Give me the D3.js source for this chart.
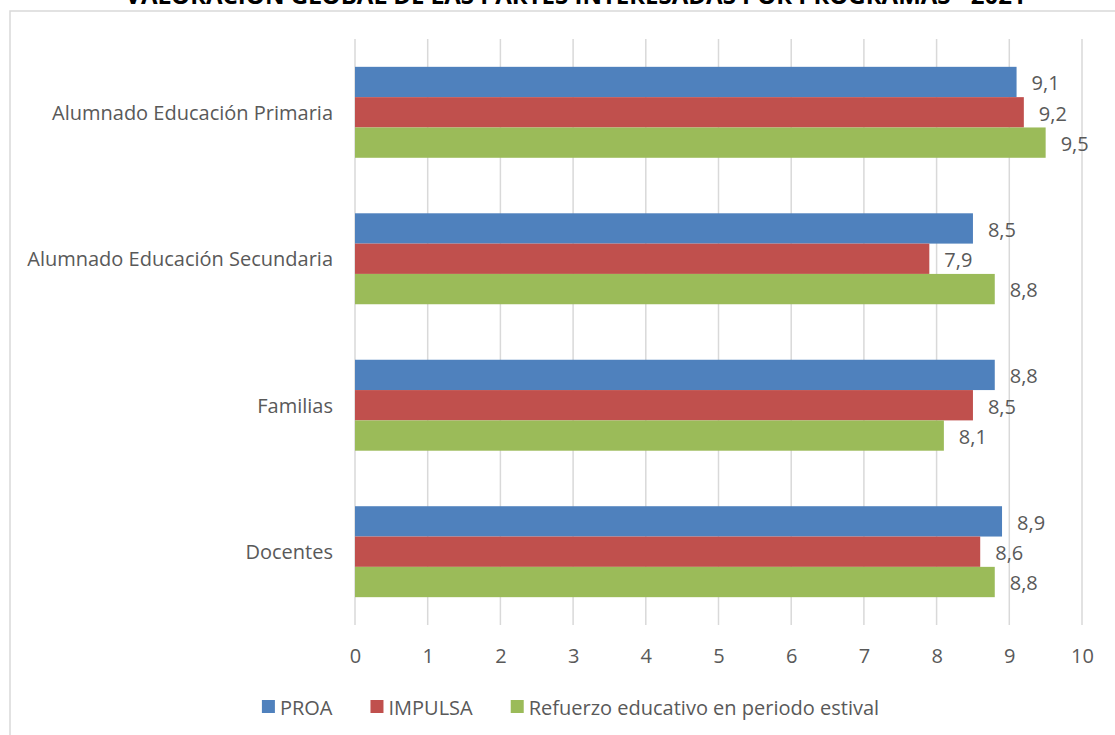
<!DOCTYPE html>
<html><head><meta charset="utf-8">
<script src="https://cdn.jsdelivr.net/npm/d3@7"></script>
<style>body{margin:0;background:#fff;} svg{display:block;font-family:'Open Sans',sans-serif;}</style>
</head><body><svg id="c" width="1115" height="735"></svg>
<script>
const title = "VALORACIÓN GLOBAL DE LAS PARTES INTERESADAS POR PROGRAMAS - 2021";
const categories = ["Alumnado Educación Primaria", "Alumnado Educación Secundaria", "Familias", "Docentes"];
const seriesNames = ["PROA", "IMPULSA", "Refuerzo educativo en periodo estival"];
const proa = [9.1, 8.5, 8.8, 8.9];
const impulsa = [9.2, 7.9, 8.5, 8.6];
const refuerzo = [9.5, 8.8, 8.1, 8.8];
const xTicks = [0, 1, 2, 3, 4, 5, 6, 7, 8, 9, 10];
const colors = ["#4F81BD", "#C0504D", "#9BBB59"];

const seriesValues = [proa, impulsa, refuerzo];
const svg = d3.select("#c");
const textColor = "#595959";
const gridColor = "#D9D9D9";

// chart border
svg.append("rect").attr("x", 10).attr("y", 11).attr("width", 1200).attr("height", 800)
  .attr("fill", "none").attr("stroke", gridColor).attr("stroke-width", 1.5);

// title (fit to width)
const t = svg.append("text").text(title).attr("font-weight", "bold").attr("fill", "#000")
  .attr("text-anchor", "middle").attr("x", 575.5).attr("y", 4).attr("font-size", 100);
const tw = t.node().getComputedTextLength();
t.attr("font-size", 100 * 901 / tw);

const x = d3.scaleLinear().domain([0, 10]).range([355, 1082]);
const y = d3.scaleBand().domain(categories).range([39, 625]).paddingInner(0.379).paddingOuter(0.19);
const ys = d3.scaleBand().domain(seriesNames).range([0, y.bandwidth()]);

// gridlines
svg.append("g").selectAll("line").data(xTicks).join("line")
  .attr("x1", d => x(d)).attr("x2", d => x(d)).attr("y1", 39).attr("y2", 625)
  .attr("stroke", gridColor).attr("stroke-width", 1.5);

// x tick labels
const xAxis = svg.append("g").attr("transform", "translate(0,625)")
  .call(d3.axisBottom(x).tickValues(xTicks).tickSize(0).tickPadding(0).tickFormat(d3.format("d")));
xAxis.select(".domain").remove();
xAxis.selectAll("text").attr("dy", null).attr("y", 38).attr("fill", textColor)
  .attr("font-size", 20).attr("font-family", "'Open Sans',sans-serif");

// category labels
const yAxis = svg.append("g").attr("transform", "translate(355,0)")
  .call(d3.axisLeft(y).tickSize(0).tickPadding(22));
yAxis.select(".domain").remove();
yAxis.selectAll("text").attr("dy", "0.37em").attr("fill", textColor)
  .attr("font-size", 20).attr("font-family", "'Open Sans',sans-serif");

// bars
const fmt = v => d3.format(".1f")(v).replace(".", ",");
const groups = svg.append("g").selectAll("g").data(categories).join("g")
  .attr("transform", d => `translate(0,${y(d)})`);
groups.each(function (cat, ci) {
  const g = d3.select(this);
  seriesNames.forEach((s, si) => {
    const v = seriesValues[si][ci];
    g.append("rect").attr("x", x(0)).attr("y", ys(s)).attr("width", x(v) - x(0))
      .attr("height", ys.bandwidth()).attr("fill", colors[si]);
    g.append("text").attr("x", x(v) + 15).attr("y", ys(s) + ys.bandwidth() / 2)
      .attr("dy", "0.42em").attr("fill", textColor).attr("font-size", 20).text(fmt(v));
  });
});

// legend
const lg = svg.append("g");
let cx = 0;
const items = [];
seriesNames.forEach((s, i) => {
  const it = lg.append("g").attr("transform", `translate(${cx},0)`);
  it.append("rect").attr("x", 0).attr("y", -7).attr("width", 13).attr("height", 13).attr("fill", colors[i]);
  const tx = it.append("text").attr("x", 18).attr("y", 8).attr("fill", textColor).attr("font-size", 20).text(s);
  cx += 18 + tx.node().getComputedTextLength() + 38;
});
const totalW = cx - 38;
lg.attr("transform", `translate(${570.5 - totalW / 2},707)`);
</script></body></html>
